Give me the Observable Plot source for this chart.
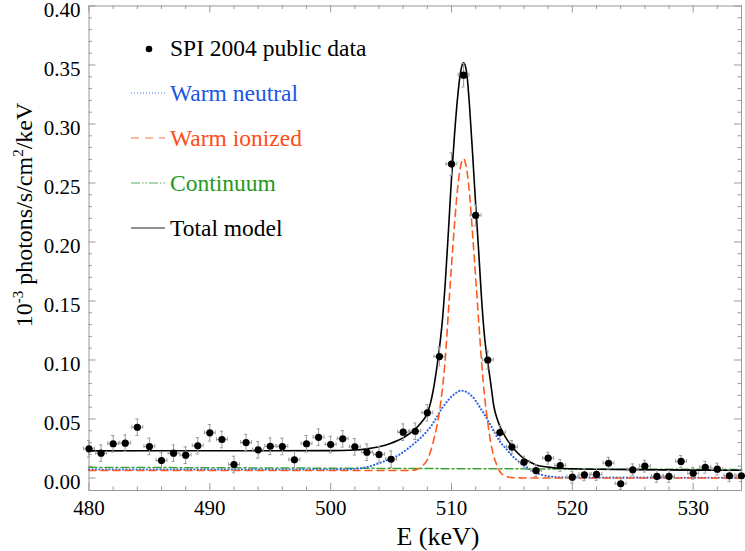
<!DOCTYPE html>
<html>
<head>
<meta charset="utf-8">
<script src="https://cdn.jsdelivr.net/npm/d3@7"></script>
<script src="https://cdn.jsdelivr.net/npm/@observablehq/plot@0.6"></script>
<style>
  body { margin: 0; background: #fff; }
  #chart { position: relative; width: 745px; height: 551px; }
  #chart svg text, #chart svg tspan { font-family: 'Liberation Serif', 'Times New Roman', serif; }
</style>
</head>
<body>
<div id="chart"></div>
<script>
// ---------- data ----------
const energy = [480,481,482,483,484,485,486,487,488,489,490,491,492,493,494,495,496,497,498,499,
  500,501,502,503,504,505,506,507,508,509,510,511,512,513,514,515,516,517,518,519,
  520,521,522,523,524,525,526,527,528,529,530,531,532,533,534];
const flux = [0.0247,0.0210,0.0290,0.0295,0.0430,0.0267,0.0148,0.0210,0.0193,0.0273,
  0.0383,0.0326,0.0114,0.0300,0.0239,0.0269,0.0267,0.0154,0.0290,0.0345,
  0.0284,0.0332,0.0264,0.0218,0.0199,0.0159,0.0388,0.0396,0.0552,0.1029,
  0.2660,0.3414,0.2225,0.1000,0.0385,0.0262,0.0134,0.0062,0.0168,0.0106,
  0.0007,0.0027,0.0030,0.0125,-0.0049,0.0069,0.0100,0.0013,0.0013,0.0140,
  0.0040,0.0091,0.0075,0.0019,0.0019];
const fluxErr = [0.007,0.007,0.007,0.007,0.007,0.007,0.007,0.007,0.007,0.007,
  0.007,0.007,0.007,0.007,0.007,0.007,0.007,0.007,0.007,0.007,
  0.007,0.007,0.007,0.007,0.007,0.007,0.007,0.007,0.007,0.008,
  0.0095,0.010,0.009,0.0078,0.006,0.0055,0.005,0.005,0.005,0.005,
  0.005,0.005,0.005,0.005,0.005,0.005,0.005,0.005,0.005,0.005,
  0.005,0.005,0.005,0.005,0.005];
const binHalfWidth = 0.45; // keV

const curveE = [480,485,490,495,500,501,502,503,504,505,505.5,506,506.5,507,507.5,
  508,508.25,508.5,508.75,509,509.25,509.5,509.75,510,510.25,510.5,510.75,511,
  511.25,511.5,511.75,512,512.25,512.5,512.75,513,513.25,513.5,513.75,514,
  514.5,515,515.5,516,516.5,517,518,519,520,522,525,530,534];
const warmNeutral = [0.0072,0.0072,0.0072,0.0072,0.0072,0.0073,0.0077,0.0092,0.0125,0.0165,0.0187,0.0220,0.0258,0.0300,0.0345,
  0.0400,0.0430,0.0470,0.0510,0.0555,0.0597,0.0630,0.0662,0.0690,0.0712,0.0730,0.0740,0.0738,
  0.0728,0.0710,0.0688,0.0655,0.0615,0.0575,0.0535,0.0490,0.0445,0.0398,0.0352,0.0310,
  0.0250,0.0190,0.0145,0.0105,0.0075,0.0045,0.0015,0.0006,0.0004,0.0003,0.0003,0.0002,0.0002];
const warmIonized = [0.0064,0.0064,0.0064,0.0064,0.0064,0.0064,0.0064,0.0064,0.0064,0.0064,0.0064,0.0064,0.0065,0.0069,0.0095,
  0.0155,0.0220,0.0310,0.0420,0.0560,0.0760,0.1030,0.1420,0.1800,0.2150,0.2450,0.2640,0.2705,
  0.2620,0.2400,0.2060,0.1700,0.1330,0.0970,0.0680,0.0470,0.0300,0.0185,0.0110,0.0055,
  0.0015,0.0003,0.0001,0,0,0,0,0,0,0,0,0,0];
const totalModel = [0.0230,0.0231,0.0231,0.0231,0.0232,0.0233,0.0237,0.0247,0.0265,0.0295,0.0315,0.0340,0.0375,0.0415,0.0470,
  0.0550,0.0630,0.0750,0.0910,0.1100,0.1340,0.1680,0.2100,0.2540,0.2910,0.3220,0.3440,0.3520,
  0.3440,0.3140,0.2740,0.2320,0.1920,0.1500,0.1180,0.0980,0.0800,0.0610,0.0510,0.0440,
  0.0340,0.0270,0.0210,0.0165,0.0135,0.0110,0.0092,0.0082,0.0078,0.0074,0.0071,0.0067,0.0065];
const continuumE = [480,490,500,510,520,534];
const continuum = [0.0090,0.0087,0.0083,0.0079,0.0076,0.0072];

const xTickLabels = [480,490,500,510,520,530];
const yTickLabels = [0,0.05,0.10,0.15,0.20,0.25,0.30,0.35,0.40];
const legendLabels = ["SPI 2004 public data","Warm neutral","Warm ionized","Continuum","Total model"];
const xTitle = "E (keV)";

// ---------- styles ----------
const FONT = "'Liberation Serif', 'Times New Roman', serif";
const W = 745, H = 551;
const mL = 88.5, mR = 4, mT = 5.5, mB = 61;
const innerH = H - mT - mB, innerW = W - mL - mR;
const C = { neutral: "#2563e8", ionized: "#ff5a1f", cont: "#3aa63a", total: "#000", err: "#9a9a9a", frame: "#9a9a9a" };
const textC = { neutral: "#1a56e0", ionized: "#ff4d14", cont: "#1f9a1f", total: "#000" };

const points = energy.map((e, i) => ({E: e, F: flux[i], err: fluxErr[i]}));
const series = (xs, ys) => xs.map((x, i) => ({E: x, v: ys[i]}));
const neutralData = series(curveE, warmNeutral);
const ionizedData = series(curveE, warmIonized);
const totalData = series(curveE, totalModel);
const contData = series(continuumE, continuum);

const xMajor = d3.range(480, 535, 10), xMinor = d3.range(480, 535, 2).filter(d => d % 10 !== 0);
const yMajor = yTickLabels, yMinor = d3.range(0, 41, 1).map(d => d / 100).filter((d, i) => i % 5 !== 0);
const MAJ = 7, MIN = 3.5;

const plot = Plot.plot({
  width: W, height: H,
  marginLeft: mL, marginRight: mR, marginTop: mT, marginBottom: mB,
  style: { fontFamily: FONT, fontSize: "21px", background: "#fff", color: "#000" },
  x: { domain: [480, 534] },
  y: { domain: [-0.0106, 0.40] },
  marks: [
    Plot.ruleX(xMajor, { x: d => d, insetTop: innerH - MAJ, stroke: C.frame }),
    Plot.ruleX(xMinor, { x: d => d, insetTop: innerH - MIN, stroke: C.frame }),
    Plot.ruleX(xMajor, { x: d => d, insetBottom: innerH - MAJ, stroke: C.frame }),
    Plot.ruleX(xMinor, { x: d => d, insetBottom: innerH - MIN, stroke: C.frame }),
    Plot.ruleY(yMajor, { y: d => d, insetRight: innerW - MAJ, stroke: C.frame }),
    Plot.ruleY(yMinor, { y: d => d, insetRight: innerW - MIN, stroke: C.frame }),
    Plot.ruleY(yMajor, { y: d => d, insetLeft: innerW - MAJ, stroke: C.frame }),
    Plot.ruleY(yMinor, { y: d => d, insetLeft: innerW - MIN, stroke: C.frame }),
    Plot.frame({ stroke: C.frame }),
    Plot.axisX(xTickLabels, { tickSize: 0, tickPadding: 9.5, label: null, tickFormat: d => String(d) }),
    Plot.axisY(yTickLabels, { tickSize: 0, tickPadding: 8.5, dy: 4, label: null, tickFormat: d3.format(".2f") }),
    Plot.line(contData, { x: "E", y: "v", stroke: C.cont, strokeWidth: 1.5, strokeDasharray: "8,3,2,3" }),
    Plot.line(neutralData, { x: "E", y: "v", stroke: C.neutral, strokeWidth: 2.1, strokeDasharray: "0.1,3.3", strokeLinecap: "round", curve: "monotone-x" }),
    Plot.line(ionizedData, { x: "E", y: "v", stroke: C.ionized, strokeWidth: 1.6, strokeDasharray: "7,5", curve: "monotone-x" }),
    Plot.line(totalData, { x: "E", y: "v", stroke: C.total, strokeWidth: 1.6, curve: "monotone-x" }),
    Plot.ruleX(points, { x: "E", y1: d => d.F - d.err, y2: d => d.F + d.err, stroke: C.err, strokeWidth: 1 }),
    Plot.ruleY(points, { y: "F", x1: d => d.E - binHalfWidth, x2: d => d.E + binHalfWidth, stroke: C.err, strokeWidth: 1 }),
    Plot.ruleY(points, { y: d => d.F - d.err, x1: d => d.E - 0.13, x2: d => d.E + 0.13, stroke: C.err, strokeWidth: 1 }),
    Plot.ruleY(points, { y: d => d.F + d.err, x1: d => d.E - 0.13, x2: d => d.E + 0.13, stroke: C.err, strokeWidth: 1 }),
    Plot.ruleX(points, { x: d => d.E - binHalfWidth, y1: d => d.F - 0.0016, y2: d => d.F + 0.0016, stroke: C.err, strokeWidth: 1 }),
    Plot.ruleX(points, { x: d => d.E + binHalfWidth, y1: d => d.F - 0.0016, y2: d => d.F + 0.0016, stroke: C.err, strokeWidth: 1 }),
    Plot.dot(points, { x: "E", y: "F", r: 3.6, fill: "#000", stroke: "none" })
  ]
});

document.getElementById("chart").appendChild(plot);

const svg = d3.select(plot);
svg.selectAll("text").style("font-family", FONT).style("font-size", "21px");

// axis titles
svg.append("text")
  .attr("x", 438).attr("y", 545)
  .style("text-anchor", "middle")
  .style("font-family", FONT).style("font-size", "26px").attr("fill", "#000")
  .text(xTitle);

const yt = svg.append("text")
  .attr("transform", "translate(32,215) rotate(-90)")
  .style("text-anchor", "middle")
  .style("font-family", FONT).style("font-size", "24px").attr("fill", "#000");
yt.append("tspan").text("10");
yt.append("tspan").style("font-size", "15px").attr("dy", -9).text("-3");
yt.append("tspan").attr("dy", 9).text(" photons/s/cm");
yt.append("tspan").style("font-size", "15px").attr("dy", -9).text("2");
yt.append("tspan").attr("dy", 9).text("/keV");

// legend
const LF = "23.5px";
const leg = svg.append("g");
leg.append("circle").attr("cx", 149).attr("cy", 49).attr("r", 3.3).attr("fill", "#000");
leg.append("text").attr("x", 170).attr("y", 56).attr("fill", "#000")
  .style("text-anchor", "start").style("font-family", FONT).style("font-size", LF)
  .text(legendLabels[0]);
const legItems = [
  { label: legendLabels[1], stroke: C.neutral, text: textC.neutral, dash: "1,2", w: 1.2 },
  { label: legendLabels[2], stroke: C.ionized, text: textC.ionized, dash: "8,6", w: 1.2 },
  { label: legendLabels[3], stroke: C.cont, text: textC.cont, dash: "9,2,1.5,2,1.5,2", w: 1.2 },
  { label: legendLabels[4], stroke: "#555", text: textC.total, dash: null, w: 1.3 }
];
legItems.forEach((it, i) => {
  const y = 93 + i * 45;
  const ln = leg.append("line").attr("x1", 131).attr("x2", 165).attr("y1", y).attr("y2", y)
    .attr("stroke", it.stroke).attr("stroke-width", it.w).attr("opacity", 0.85);
  if (it.dash) ln.attr("stroke-dasharray", it.dash);
  leg.append("text").attr("x", 170).attr("y", y + 8).attr("fill", it.text)
    .style("text-anchor", "start").style("font-family", FONT).style("font-size", LF)
    .text(it.label);
});
</script>
</body>
</html>
